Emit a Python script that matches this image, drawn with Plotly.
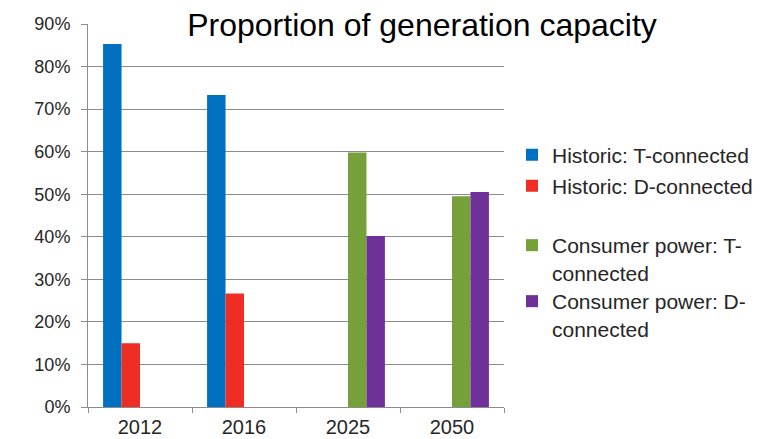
import plotly.graph_objects as go

categories = ["2012", "2016", "2025", "2050"]
series_names = [
    "Historic: T-connected",
    "Historic: D-connected",
    "Consumer power: T-<br>connected",
    "Consumer power: D-<br>connected",
]
hist_t = [0.853, 0.733, None, None]
hist_d = [0.150, 0.267, None, None]
cons_t = [None, None, 0.598, 0.495]
cons_d = [None, None, 0.402, 0.505]
y_ticks = [0, 0.1, 0.2, 0.3, 0.4, 0.5, 0.6, 0.7, 0.8, 0.9]
y_tick_labels = ["0%", "10%", "20%", "30%", "40%", "50%", "60%", "70%", "80%", "90%"]
title_text = "Proportion of generation capacity"

colors = ["#0070C0", "#EE2E24", "#76A03A", "#70309A"]
all_values = [hist_t, hist_d, cons_t, cons_d]
legend_ids = ["legend", "legend2", "legend3", "legend4"]

# page is offset by the 8px body margin; work in page pixels and convert
OFF = 8
W, H = 769 - OFF, 439 - OFF
FONT = "Liberation Sans, Arial, Helvetica, sans-serif"


def cy(py):
    return 1 - (py - OFF) / H


# legend anchors in page pixels (center for single-line, top for two-line)
legend_py = [155, 186, 225, 281]

fig = go.Figure()
for name, vals, col, lid in zip(series_names, all_values, colors, legend_ids):
    fig.add_trace(go.Bar(
        x=categories, y=vals, name=name,
        marker=dict(color=col, line=dict(width=0)),
        legend=lid,
    ))

legend_common = dict(
    xref="container", yref="container", x=(512 - OFF) / W, xanchor="left",
    font=dict(family=FONT, size=21, color="#262626"),
    bgcolor="rgba(0,0,0,0)", borderwidth=0,
    itemclick=False, itemdoubleclick=False,
)
layout_legends = {}
for lid, py in zip(legend_ids, legend_py):
    d = dict(legend_common)
    if lid in ("legend", "legend2"):
        d.update(y=cy(py), yanchor="middle", valign="middle")
    else:
        d.update(y=cy(py), yanchor="top", valign="top")
    layout_legends[lid] = d

plot_left, plot_right, plot_top, plot_bottom = 88 - OFF, 504 - OFF, 24 - OFF, 407 - OFF

fig.update_layout(
    width=W, height=H,
    margin=dict(l=plot_left, r=W - plot_right, t=plot_top, b=H - plot_bottom, autoexpand=False),
    paper_bgcolor="white", plot_bgcolor="white",
    barmode="group", bargap=0.29, bargroupgap=0,
    showlegend=True,
    font=dict(family=FONT, color="#262626"),
    xaxis=dict(
        type="category", categoryorder="array", categoryarray=categories,
        showgrid=False, showline=True, linecolor="#8c8c8c", linewidth=1,
        ticks="outside", tickson="boundaries", ticklen=5, tickcolor="#8c8c8c",
        tickfont=dict(family=FONT, size=20, color="#262626"),
        ticklabelstandoff=2, tickangle=0, automargin=False,
        fixedrange=True,
    ),
    yaxis=dict(
        range=[0, 0.9], tickvals=y_ticks, ticktext=y_tick_labels,
        showgrid=True, gridcolor="#8c8c8c", gridwidth=1,
        showline=True, linecolor="#8c8c8c", linewidth=1,
        ticks="outside", ticklen=6, tickcolor="#8c8c8c",
        tickfont=dict(family=FONT, size=18, color="#262626"),
        ticklabelstandoff=7, automargin=False,
        zeroline=False, fixedrange=True,
    ),
    **layout_legends,
)

ph = plot_bottom - plot_top
pw = plot_right - plot_left
fig.add_annotation(
    text=title_text, xref="paper", yref="paper",
    x=(422 - OFF - plot_left) / pw, y=(plot_bottom - (25 - OFF)) / ph,
    xanchor="center", yanchor="middle",
    showarrow=False, bgcolor="white", width=500, height=40,
    font=dict(family=FONT, size=32, color="#000000"),
)

fig.write_html("out.html")
